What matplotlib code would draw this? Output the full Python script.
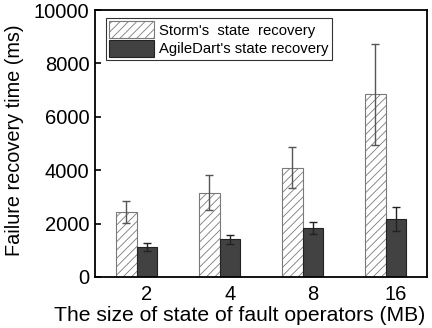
import numpy as np
import matplotlib
matplotlib.use('Agg')
import matplotlib.pyplot as plt

plt.rcParams['font.family'] = ['Liberation Sans', 'DejaVu Sans']
plt.rcParams['hatch.color'] = '#9a9a9a'
plt.rcParams['hatch.linewidth'] = 0.6

##------------data-----------------##
sizes = ['2', '4', '8', '16']
storm = [2450, 3160, 4090, 6850]
storm_err = [410, 650, 770, 1890]
agile = [1140, 1410, 1840, 2160]
agile_err = [150, 180, 235, 450]

##------------figure-----------------##
fig = plt.figure(figsize=(4.32, 3.28), dpi=100)
ax = fig.add_axes([95/432, 1-277/328, 332/432, 267/328])

x = np.arange(len(sizes))
w = 0.25
ax.bar(x - w/2, storm, w, color='white', edgecolor='#7a7a7a', hatch='////',
       linewidth=0.8, label="Storm's  state  recovery",
       yerr=storm_err, error_kw=dict(ecolor='#555555', elinewidth=1, capsize=3, capthick=1))
ax.bar(x + w/2, agile, w, color='#424242', edgecolor='#222222',
       linewidth=0.8, label="AgileDart's state recovery",
       yerr=agile_err, error_kw=dict(ecolor='#222222', elinewidth=1, capsize=3, capthick=1))

ax.set_xlim(-0.5, 3.5)
ax.set_ylim(0, 10000)
# labels sit under the second bar of each group, as in the original
ax.set_xticks(x + w/2)
ax.set_xticklabels(sizes)
ax.set_yticks([0, 2000, 4000, 6000, 8000, 10000])
ax.tick_params(axis='both', direction='in', labelsize=14.5, width=1.2, length=4)
ax.tick_params(axis='y', pad=4)
ax.tick_params(axis='x', length=0, pad=6)
for s in ax.spines.values():
    s.set_linewidth(1.3)

ax.set_ylabel('Failure recovery time (ms)', fontsize=14.3)
ax.yaxis.set_label_coords((24 - 95) / 332, 0.513)
ax.set_xlabel('The size of state of fault operators (MB)', fontsize=15.2)
ax.xaxis.set_label_coords((240 - 95) / 332, -0.108)

leg = ax.legend(loc='upper left', fontsize=10.7, frameon=True, fancybox=False,
                edgecolor='black', handlelength=3.0, handleheight=1.4,
                borderpad=0.2, labelspacing=0.1, handletextpad=0.4,
                bbox_to_anchor=(0.033, 0.97), borderaxespad=0)
leg.get_frame().set_linewidth(0.8)

plt.savefig('out.png', dpi=100)
